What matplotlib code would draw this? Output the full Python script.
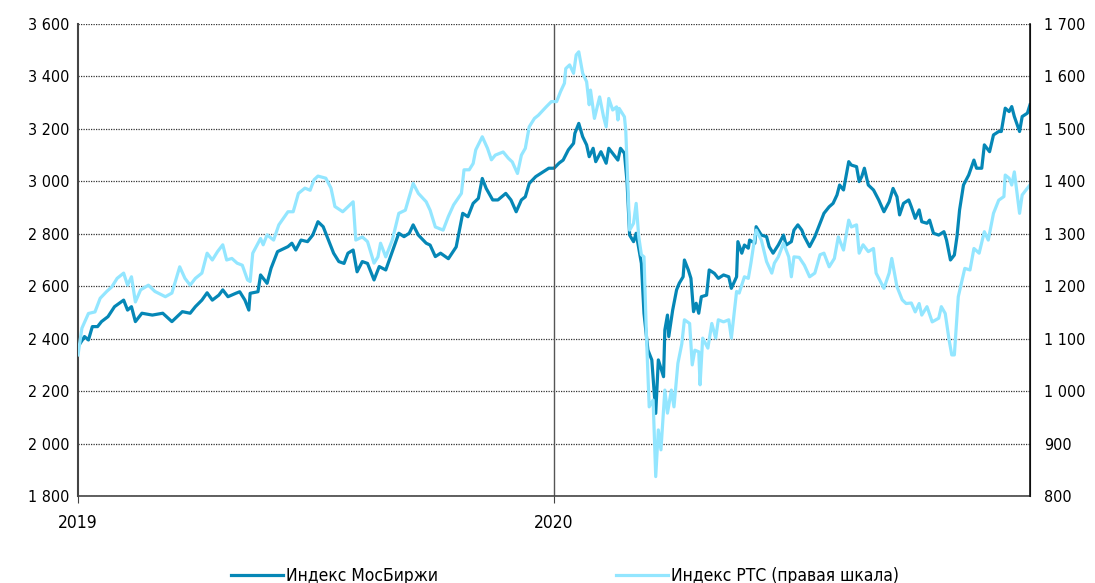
import pandas as pd
import matplotlib.pyplot as plt
import matplotlib.ticker as mticker

plt.rcParams['font.family'] = ['DejaVu Sans']
plt.rcParams['font.stretch'] = 'condensed'

# Индекс МосБиржи (left axis)
moex_dates = [
    "2019-01-01", "2019-01-06", "2019-01-09", "2019-01-12", "2019-01-16", "2019-01-19",
    "2019-01-24", "2019-01-29", "2019-02-05", "2019-02-08", "2019-02-11", "2019-02-14",
    "2019-02-19", "2019-02-27", "2019-03-07", "2019-03-14", "2019-03-22", "2019-03-28",
    "2019-04-01", "2019-04-06", "2019-04-10", "2019-04-14", "2019-04-19", "2019-04-22",
    "2019-04-26", "2019-05-02", "2019-05-05", "2019-05-09", "2019-05-12", "2019-05-13",
    "2019-05-19", "2019-05-21", "2019-05-26", "2019-05-29", "2019-06-03", "2019-06-11",
    "2019-06-14", "2019-06-17", "2019-06-21", "2019-06-26", "2019-06-30", "2019-07-04",
    "2019-07-08", "2019-07-12", "2019-07-16", "2019-07-20", "2019-07-24", "2019-07-27",
    "2019-07-31", "2019-08-03", "2019-08-07", "2019-08-11", "2019-08-16", "2019-08-20",
    "2019-08-25", "2019-08-30", "2019-09-04", "2019-09-08", "2019-09-12", "2019-09-15",
    "2019-09-19", "2019-09-25", "2019-09-28", "2019-10-02", "2019-10-06", "2019-10-12",
    "2019-10-18", "2019-10-23", "2019-10-27", "2019-10-31", "2019-11-04", "2019-11-07",
    "2019-11-10", "2019-11-15", "2019-11-19", "2019-11-25", "2019-11-29", "2019-12-03",
    "2019-12-07", "2019-12-10", "2019-12-13", "2019-12-18", "2019-12-24", "2019-12-28",
    "2020-01-01", "2020-01-05", "2020-01-08", "2020-01-12", "2020-01-16", "2020-01-17",
    "2020-01-20", "2020-01-23", "2020-01-26", "2020-01-28", "2020-01-31", "2020-02-02",
    "2020-02-06", "2020-02-10", "2020-02-12", "2020-02-16", "2020-02-19", "2020-02-21",
    "2020-02-24", "2020-02-26", "2020-02-28", "2020-03-02", "2020-03-04", "2020-03-08",
    "2020-03-10", "2020-03-13", "2020-03-16", "2020-03-19", "2020-03-21", "2020-03-25",
    "2020-03-26", "2020-03-28", "2020-03-29", "2020-04-01", "2020-04-04", "2020-04-06",
    "2020-04-09", "2020-04-10", "2020-04-13", "2020-04-15", "2020-04-17", "2020-04-19",
    "2020-04-21", "2020-04-23", "2020-04-27", "2020-04-29", "2020-05-03", "2020-05-06",
    "2020-05-10", "2020-05-14", "2020-05-16", "2020-05-20", "2020-05-21", "2020-05-24",
    "2020-05-26", "2020-05-29", "2020-05-30", "2020-06-03", "2020-06-04", "2020-06-08",
    "2020-06-12", "2020-06-14", "2020-06-17", "2020-06-21", "2020-06-25", "2020-06-27",
    "2020-07-01", "2020-07-03", "2020-07-06", "2020-07-09", "2020-07-11", "2020-07-15",
    "2020-07-19", "2020-07-23", "2020-07-26", "2020-07-30", "2020-08-02", "2020-08-05",
    "2020-08-07", "2020-08-10", "2020-08-14", "2020-08-16", "2020-08-20", "2020-08-22",
    "2020-08-24", "2020-08-26", "2020-08-29", "2020-09-02", "2020-09-06", "2020-09-10",
    "2020-09-14", "2020-09-17", "2020-09-20", "2020-09-22", "2020-09-25", "2020-09-29",
    "2020-10-01", "2020-10-04", "2020-10-07", "2020-10-09", "2020-10-13", "2020-10-15",
    "2020-10-18", "2020-10-22", "2020-10-26", "2020-10-28", "2020-10-31", "2020-11-03",
    "2020-11-05", "2020-11-07", "2020-11-10", "2020-11-14", "2020-11-18", "2020-11-20",
    "2020-11-24", "2020-11-26", "2020-11-30", "2020-12-03", "2020-12-07", "2020-12-09",
    "2020-12-12", "2020-12-15", "2020-12-17", "2020-12-19", "2020-12-23", "2020-12-25",
    "2020-12-29", "2020-12-31",
]
moex_values = [
    2369, 2408, 2395, 2446, 2446, 2465,
    2484, 2522, 2547, 2509, 2522, 2465,
    2497, 2490, 2497, 2465, 2503, 2497,
    2522, 2547, 2575, 2547, 2566, 2586,
    2560, 2573, 2579, 2547, 2509, 2573,
    2579, 2643, 2611, 2668, 2732, 2751,
    2764, 2738, 2776, 2770, 2795, 2846,
    2827, 2776, 2726, 2694, 2687, 2726,
    2738, 2655, 2694, 2687, 2624, 2675,
    2662, 2732, 2802, 2789, 2802, 2834,
    2795, 2764, 2757, 2713, 2726, 2705,
    2750, 2878, 2865, 2916, 2935, 3011,
    2973, 2929, 2929, 2954, 2929, 2884,
    2929, 2941, 2992, 3018, 3037, 3050,
    3050, 3070, 3081, 3120, 3145, 3183,
    3221, 3170, 3139, 3094, 3126, 3075,
    3113, 3069, 3126, 3100, 3081, 3126,
    3107, 2999, 2795, 2770, 2802, 2687,
    2497, 2357, 2319, 2115, 2319, 2255,
    2433, 2490, 2408, 2509, 2586, 2611,
    2636, 2700, 2662, 2630, 2503, 2535,
    2497, 2560, 2566, 2662, 2649, 2630,
    2643, 2636, 2592, 2636, 2770, 2726,
    2757, 2745, 2776, 2764, 2827, 2795,
    2789, 2751, 2726, 2757, 2795, 2757,
    2770, 2814, 2834, 2814, 2789, 2751,
    2789, 2840, 2878, 2903, 2916, 2948,
    2986, 2967, 3075, 3062, 3056, 2999,
    3018, 3050, 2986, 2967, 2929, 2884,
    2922, 2973, 2941, 2872, 2916, 2929,
    2903, 2859, 2891, 2846, 2840, 2852,
    2802, 2795, 2808, 2776, 2700, 2719,
    2789, 2891, 2986, 3024, 3081, 3050,
    3050, 3139, 3113, 3177, 3190, 3190,
    3279, 3266, 3285, 3247, 3190, 3247,
    3260, 3292,
]

# Индекс РТС (right axis)
rts_dates = [
    "2019-01-01", "2019-01-04", "2019-01-09", "2019-01-14", "2019-01-18", "2019-01-23",
    "2019-01-27", "2019-01-31", "2019-02-05", "2019-02-08", "2019-02-11", "2019-02-14",
    "2019-02-18", "2019-02-24", "2019-03-01", "2019-03-09", "2019-03-14", "2019-03-20",
    "2019-03-24", "2019-03-28", "2019-04-01", "2019-04-06", "2019-04-10", "2019-04-14",
    "2019-04-18", "2019-04-22", "2019-04-25", "2019-04-29", "2019-05-03", "2019-05-07",
    "2019-05-11", "2019-05-13", "2019-05-15", "2019-05-21", "2019-05-23", "2019-05-26",
    "2019-05-31", "2019-06-04", "2019-06-11", "2019-06-15", "2019-06-19", "2019-06-24",
    "2019-06-28", "2019-07-01", "2019-07-04", "2019-07-10", "2019-07-14", "2019-07-17",
    "2019-07-23", "2019-07-31", "2019-08-02", "2019-08-07", "2019-08-11", "2019-08-16",
    "2019-08-19", "2019-08-21", "2019-08-25", "2019-08-30", "2019-09-04", "2019-09-09",
    "2019-09-15", "2019-09-19", "2019-09-25", "2019-09-28", "2019-10-02", "2019-10-08",
    "2019-10-12", "2019-10-16", "2019-10-22", "2019-10-24", "2019-10-28", "2019-10-31",
    "2019-11-02", "2019-11-07", "2019-11-11", "2019-11-14", "2019-11-17", "2019-11-23",
    "2019-11-27", "2019-11-30", "2019-12-04", "2019-12-07", "2019-12-10", "2019-12-13",
    "2019-12-17", "2019-12-20", "2019-12-26", "2019-12-30", "2020-01-03", "2020-01-06",
    "2020-01-09", "2020-01-10", "2020-01-13", "2020-01-16", "2020-01-18", "2020-01-20",
    "2020-01-23", "2020-01-26", "2020-01-28", "2020-01-29", "2020-02-01", "2020-02-05",
    "2020-02-08", "2020-02-10", "2020-02-12", "2020-02-15", "2020-02-18", "2020-02-19",
    "2020-02-20", "2020-02-24", "2020-02-25", "2020-02-28", "2020-03-02", "2020-03-04",
    "2020-03-06", "2020-03-08", "2020-03-10", "2020-03-12", "2020-03-14", "2020-03-17",
    "2020-03-19", "2020-03-21", "2020-03-23", "2020-03-26", "2020-03-28", "2020-03-31",
    "2020-04-02", "2020-04-05", "2020-04-08", "2020-04-10", "2020-04-14", "2020-04-16",
    "2020-04-18", "2020-04-21", "2020-04-22", "2020-04-24", "2020-04-28", "2020-05-01",
    "2020-05-04", "2020-05-06", "2020-05-10", "2020-05-14", "2020-05-16", "2020-05-20",
    "2020-05-22", "2020-05-26", "2020-05-29", "2020-05-31", "2020-06-03", "2020-06-04",
    "2020-06-08", "2020-06-12", "2020-06-16", "2020-06-18", "2020-06-21", "2020-06-25",
    "2020-06-29", "2020-07-01", "2020-07-03", "2020-07-07", "2020-07-11", "2020-07-15",
    "2020-07-19", "2020-07-23", "2020-07-26", "2020-07-30", "2020-08-03", "2020-08-06",
    "2020-08-10", "2020-08-14", "2020-08-16", "2020-08-20", "2020-08-22", "2020-08-25",
    "2020-08-29", "2020-09-02", "2020-09-04", "2020-09-10", "2020-09-14", "2020-09-16",
    "2020-09-20", "2020-09-24", "2020-09-27", "2020-10-01", "2020-10-04", "2020-10-07",
    "2020-10-09", "2020-10-13", "2020-10-17", "2020-10-22", "2020-10-24", "2020-10-27",
    "2020-10-30", "2020-11-01", "2020-11-03", "2020-11-06", "2020-11-09", "2020-11-11",
    "2020-11-15", "2020-11-18", "2020-11-22", "2020-11-26", "2020-11-29", "2020-12-03",
    "2020-12-07", "2020-12-11", "2020-12-12", "2020-12-15", "2020-12-17", "2020-12-19",
    "2020-12-23", "2020-12-25", "2020-12-29", "2020-12-31",
]
rts_values = [
    1069, 1120, 1148, 1151, 1177, 1190,
    1199, 1215, 1225, 1202, 1218, 1170,
    1193, 1202, 1190, 1180, 1187, 1237,
    1215, 1202, 1215, 1225, 1263, 1250,
    1266, 1279, 1250, 1253, 1244, 1240,
    1212, 1209, 1263, 1291, 1279, 1298,
    1288, 1317, 1342, 1342, 1377, 1387,
    1383, 1403, 1410, 1406, 1387, 1352,
    1342, 1361, 1288, 1294, 1285, 1244,
    1256, 1282, 1256, 1288, 1339, 1345,
    1396, 1377, 1361, 1345, 1313, 1307,
    1333, 1355, 1377, 1422, 1422, 1434,
    1460, 1485, 1463, 1441, 1450, 1456,
    1444, 1437, 1415, 1450, 1463, 1504,
    1520, 1526, 1542, 1552, 1552, 1571,
    1587, 1615, 1622, 1606, 1641, 1647,
    1606, 1590, 1546, 1574, 1520, 1561,
    1523, 1504, 1558, 1536, 1542, 1517,
    1539, 1523, 1498, 1307, 1320, 1358,
    1294, 1260, 1256, 1097, 970, 983,
    837, 926, 888, 1002, 958, 1002,
    970, 1053, 1090, 1136, 1129, 1050,
    1078, 1075, 1012, 1101, 1082, 1129,
    1101, 1136, 1132, 1136, 1101, 1190,
    1187, 1218, 1215, 1244, 1294, 1307,
    1288, 1247, 1225, 1244, 1256, 1282,
    1256, 1218, 1256, 1255, 1240, 1218,
    1225, 1260, 1263, 1237, 1253, 1294,
    1269, 1326, 1313, 1317, 1263, 1279,
    1266, 1272, 1225, 1196, 1225, 1253,
    1199, 1174, 1167, 1168, 1151, 1167,
    1145, 1161, 1132, 1139, 1161, 1148,
    1097, 1069, 1069, 1180, 1212, 1234,
    1231, 1272, 1263, 1304, 1288, 1339,
    1364, 1371, 1412, 1406, 1393, 1418,
    1339, 1374, 1387, 1393,
]

moex = pd.Series(moex_values, index=pd.to_datetime(moex_dates))
rts = pd.Series(rts_values, index=pd.to_datetime(rts_dates))

DARK = "#0587B6"
LIGHT = "#93E6FF"

fig = plt.figure(figsize=(10.95, 5.83), dpi=100)
ax = fig.add_axes([78 / 1095, 1 - 496 / 583, (1030 - 78) / 1095, (496 - 24) / 583])
ax2 = ax.twinx()

ax.plot(moex.index, moex.values, color=DARK, lw=2.3, label="Индекс МосБиржи", solid_joinstyle="round")
ax2.plot(rts.index, rts.values, color=LIGHT, lw=2.3, label="Индекс РТС (правая шкала)", solid_joinstyle="round")

ax.set_xlim(pd.Timestamp("2019-01-01"), pd.Timestamp("2020-12-31"))
ax.set_ylim(1800, 3600)
ax2.set_ylim(800, 1700)

space_fmt = mticker.FuncFormatter(lambda v, p: f"{int(v):,}".replace(",", " "))
ax.yaxis.set_major_locator(mticker.MultipleLocator(200))
ax.yaxis.set_major_formatter(space_fmt)
ax2.yaxis.set_major_locator(mticker.MultipleLocator(100))
ax2.yaxis.set_major_formatter(space_fmt)

ax.set_xticks([pd.Timestamp("2019-01-01"), pd.Timestamp("2020-01-01")])
ax.set_xticklabels(["2019", "2020"])

ax.grid(axis="y", linestyle=(0, (1, 1)), color="#333333", lw=0.9)
ax.axvline(pd.Timestamp("2020-01-01"), color="#555555", lw=1)

for a in (ax, ax2):
    a.spines["top"].set_visible(False)
ax.spines["left"].set_color("#444444")
ax.spines["left"].set_linewidth(1.5)
ax.spines["bottom"].set_color("#444444")
ax.spines["bottom"].set_linewidth(1.2)
ax2.spines["right"].set_color("#111111")
ax2.spines["right"].set_linewidth(1.2)
ax2.spines["left"].set_visible(False)
ax2.spines["bottom"].set_visible(False)

ax.tick_params(axis="y", length=0, pad=6, labelsize=11.5)
ax2.tick_params(axis="y", length=0, pad=10, labelsize=11.5)
ax.tick_params(axis="x", length=5, color="#444444", pad=8, labelsize=12.5)

fig.legend(loc="center", bbox_to_anchor=(0.516, 0.012), ncol=2, frameon=False,
           fontsize=12.5, handlelength=3.0, handletextpad=0.2, columnspacing=10.2)

fig.savefig("out.png", dpi=100)
